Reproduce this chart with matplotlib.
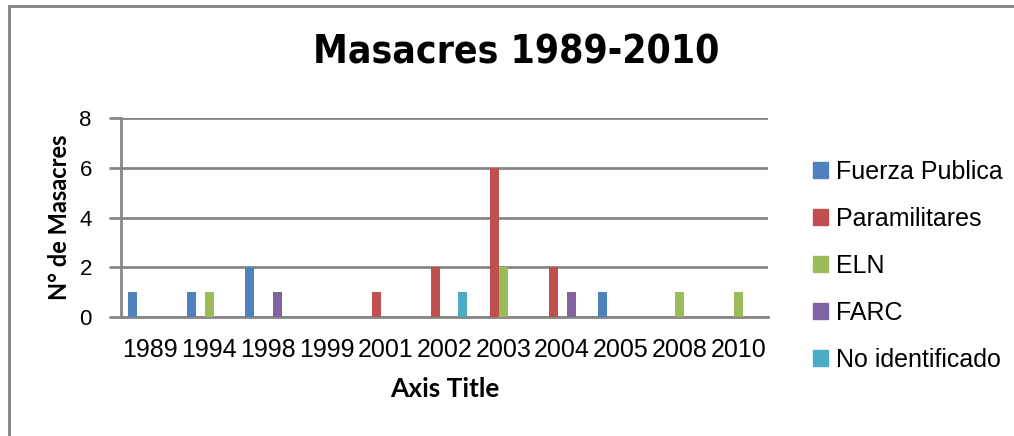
import numpy as np
import matplotlib.pyplot as plt
from matplotlib.patches import Rectangle, Patch

# masacres por año y por actor
years = ['1989', '1994', '1998', '1999', '2001', '2002', '2003', '2004', '2005', '2008', '2010']
fuerza_publica = [1, 1, 2, 0, 0, 0, 0, 0, 1, 0, 0]
paramilitares = [0, 0, 0, 0, 1, 2, 6, 2, 0, 0, 0]
eln = [0, 1, 0, 0, 0, 0, 2, 0, 0, 1, 1]
farc = [0, 0, 1, 0, 0, 0, 0, 1, 0, 0, 0]
no_identificado = [0, 0, 0, 0, 0, 1, 0, 0, 0, 0, 0]

series = [fuerza_publica, paramilitares, eln, farc, no_identificado]
names = ['Fuerza Publica', 'Paramilitares', 'ELN', 'FARC', 'No identificado']
colors = ['#4F81BD', '#C0504D', '#9BBB59', '#8064A2', '#4BACC6']

plt.rcParams['font.family'] = 'Liberation Sans'

fig = plt.figure(figsize=(10.14, 4.36), dpi=100)
ax = fig.add_axes([121/1014, 1-317/436, 647/1014, 199/436])

x = np.arange(len(years))
w = 1/6.5
for i, (vals, name, c) in enumerate(zip(series, names, colors)):
    ax.bar(x + (i-2)*w, vals, w, color=c, label=name, zorder=3)

ax.set_xlim(-0.5, len(years)-0.5)
ax.set_ylim(0, 8)
ax.set_yticks([0, 2, 4, 6, 8])
ax.set_xticks(x)
ax.set_xticklabels(years)
ax.tick_params(axis='x', length=0, labelsize=18, pad=15)
ax.tick_params(axis='y', length=9, width=2, color='#868686', labelsize=16, pad=12)
ax.grid(axis='y', color='#868686', linewidth=2, zorder=0)
for s in ['top', 'right']:
    ax.spines[s].set_visible(False)
for s in ['left', 'bottom']:
    ax.spines[s].set_color('#868686')
    ax.spines[s].set_linewidth(2)

ax.set_ylabel('N° de Masacres', fontsize=17, fontweight='bold', family='Lato', labelpad=6)
ax.set_xlabel('Axis Title', fontsize=19, fontweight='bold', family='Lato', labelpad=11)
fig.text(516/1014, 1-52/436, 'Masacres 1989-2010', ha='center', va='center',
         fontsize=28, fontweight='bold', family='DejaVu Sans', fontstretch='condensed')

handles = [Patch(color=c) for c in colors]
fig.legend(handles, names, loc='upper left', bbox_to_anchor=(790/1014, 1-137/436),
           frameon=False, fontsize=18, handlelength=0.6, handleheight=0.6,
           handletextpad=0.33, labelspacing=0.92)

fig.patches.append(Rectangle((8.5/1014, -0.1), 1.2, 1 - 6/436 + 0.1, transform=fig.transFigure,
                             fill=False, edgecolor='#808080', linewidth=2))

fig.savefig('out.png', dpi=100)
